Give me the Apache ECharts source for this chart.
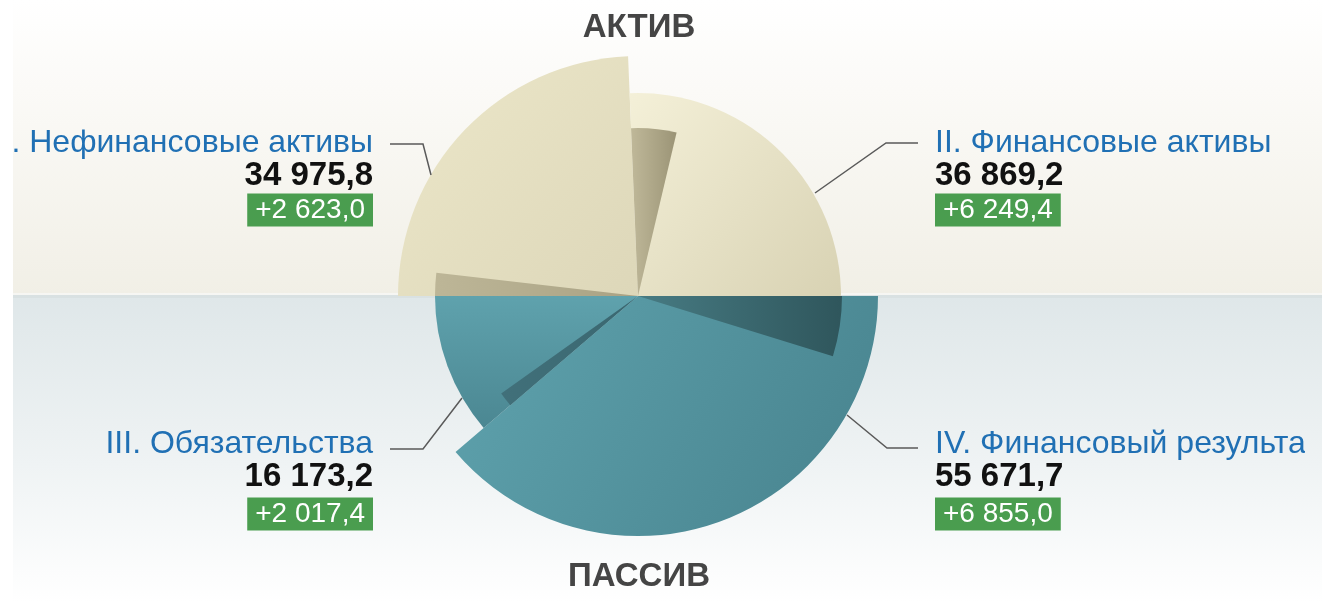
<!DOCTYPE html>
<html>
<head>
<meta charset="utf-8">
<script src="https://cdn.jsdelivr.net/npm/echarts@6/dist/echarts.min.js"></script>
<style>
  html, body { margin: 0; padding: 0; background: #fff; }
  #chart { position: absolute; left: 13px; top: 0; width: 1309px; height: 603px; }
</style>
</head>
<body>
<div id="chart"></div>
<script>
// данные: порядок по часовой стрелке от 9 часов
const names = ['I. Нефинансовые активы', 'II. Финансовые активы', 'IV. Финансовый результат', 'III. Обязательства'];
const values = [34975.8, 36869.2, 55671.7, 16173.2];
const changes = [2623.0, 6249.4, 6855.0, 2017.4];
const sideTitles = ['АКТИВ', 'ПАССИВ'];

// раскладка
const W = 1309;
const H = 603;
const MID = 296;
const CENTER = [625, MID];
const radii = [240, 203, 240, 203];
const changeRadii = [203, 168, 204, 168];
const FONT = '"Liberation Sans", Arial, sans-serif';

const lg = (x, y, x2, y2, c1, c2) => new echarts.graphic.LinearGradient(x, y, x2, y2, [
  { offset: 0, color: c1 }, { offset: 1, color: c2 }
]);

const fills = [
  lg(0, 0, 1, 1, '#ece7c9', '#ddd7b9'),
  lg(0, 0, 1, 1, '#f4f0d8', '#d8d2b3'),
  lg(0, 0, 1, 1, '#5fa3ae', '#47828d'),
  lg(0, 0, 0, 1, '#5fa2ad', '#4b8792')
];
const darkFills = [
  lg(0, 0, 1, 0, '#bdb697', '#a9a284'),
  lg(0, 0, 1, 0, '#bfb899', '#9b9476'),
  lg(0, 0, 1, 0, '#477b83', '#2f565c'),
  lg(0, 0, 1, 0, '#41707a', '#3a6770')
];
const hidden = { color: 'rgba(0,0,0,0)' };

function fmt(v) {
  const [a, b] = v.toFixed(1).split('.');
  return a.replace(/\B(?=(\d{3})+(?!\d))/g, ' ') + ',' + b;
}

function pieBase(r) {
  return {
    type: 'pie',
    center: CENTER,
    radius: [0, r],
    startAngle: 180,
    clockwise: true,
    silent: true,
    animation: false,
    label: { show: false },
    labelLine: { show: false },
    emphasis: { disabled: true }
  };
}

// основные секторы
function mainSeries(i) {
  return Object.assign(pieBase(radii[i]), {
    data: values.map((v, j) => ({ value: v, itemStyle: j === i ? { color: fills[i] } : hidden }))
  });
}

// прирост — клин в начале сектора
function changeSeries(i) {
  const data = [];
  values.forEach((v, j) => {
    if (j === i) {
      data.push({ value: changes[i], itemStyle: { color: darkFills[i] } });
      data.push({ value: v - changes[i], itemStyle: hidden });
    } else {
      data.push({ value: v, itemStyle: hidden });
    }
  });
  return Object.assign(pieBase(changeRadii[i]), { data });
}

// подписи: [x, выравнивание, y названия, y значения, y прироста]
const labelPos = [
  [360, 'right', 143, 176, 210],
  [922, 'left', 143, 176, 210],
  [922, 'left', 444, 477, 514],
  [360, 'right', 444, 477, 514]
];
const leaders = [
  [[377, 144], [410, 144], [418, 175]],
  [[802, 193], [873, 143], [905, 143]],
  [[834, 415], [874, 448], [905, 448]],
  [[449, 398], [410, 449], [377, 449]]
];

function labelElements(i) {
  const [x, align, ny, vy, cy] = labelPos[i];
  return [
    { type: 'text', z: 100, style: {
      text: names[i], x, y: ny, align, verticalAlign: 'middle',
      font: '32px ' + FONT, fill: '#2070b4'
    } },
    { type: 'text', z: 100, style: {
      text: fmt(values[i]), x, y: vy, align, verticalAlign: 'middle',
      font: 'bold 33px ' + FONT, fill: '#111'
    } },
    { type: 'text', z: 100, style: {
      text: '+' + fmt(changes[i]), x, y: cy, align, verticalAlign: 'middle',
      font: '28px ' + FONT, fill: '#fff', backgroundColor: '#4a9d4f', padding: [3, 8, 2, 8]
    } },
    { type: 'polyline', z: 100, shape: { points: leaders[i] },
      style: { stroke: '#5a5a5a', lineWidth: 1.5, fill: null } }
  ];
}

const topGrad = () => new echarts.graphic.LinearGradient(0, 0, 0, MID, [
  { offset: 0, color: '#ffffff' }, { offset: 0.3, color: '#fbfaf7' }, { offset: 1, color: '#f1efe6' }
], true);
const bottomGrad = () => new echarts.graphic.LinearGradient(0, MID, 0, H, [
  { offset: 0, color: '#dfe7e9' }, { offset: 0.55, color: '#eff3f4' }, { offset: 1, color: '#ffffff' }
], true);

const background = [
  { type: 'rect', z: -10, shape: { x: 0, y: 0, width: W, height: MID }, style: { fill: topGrad() } },
  { type: 'rect', z: -10, shape: { x: 0, y: MID, width: W, height: H - MID }, style: { fill: bottomGrad() } },
  { type: 'rect', z: -9, shape: { x: 0, y: MID - 3, width: W, height: 2 }, style: { fill: '#f6f6f3' } },
  { type: 'rect', z: -9, shape: { x: 0, y: MID - 1, width: W, height: 3 }, style: { fill: '#d9e1e2' } },
  // край области подписи справа обрезан
  { type: 'rect', z: 200, shape: { x: W - 17, y: MID + 2, width: 17, height: H - MID - 2 }, style: { fill: bottomGrad() } }
];

const titles = sideTitles.map((t, k) => ({
  type: 'text', z: 100,
  style: { text: t, x: 626, y: k === 0 ? 28 : 577, align: 'center', verticalAlign: 'middle',
    font: 'bold 33px ' + FONT, fill: '#454545' }
}));

const chart = echarts.init(document.getElementById('chart'), null, { renderer: 'canvas' });
chart.setOption({
  animation: false,
  graphic: { elements: background.concat(titles, ...values.map((_, i) => labelElements(i))) },
  series: values.map((_, i) => mainSeries(i)).concat(values.map((_, i) => changeSeries(i)))
});
</script>
</body>
</html>
